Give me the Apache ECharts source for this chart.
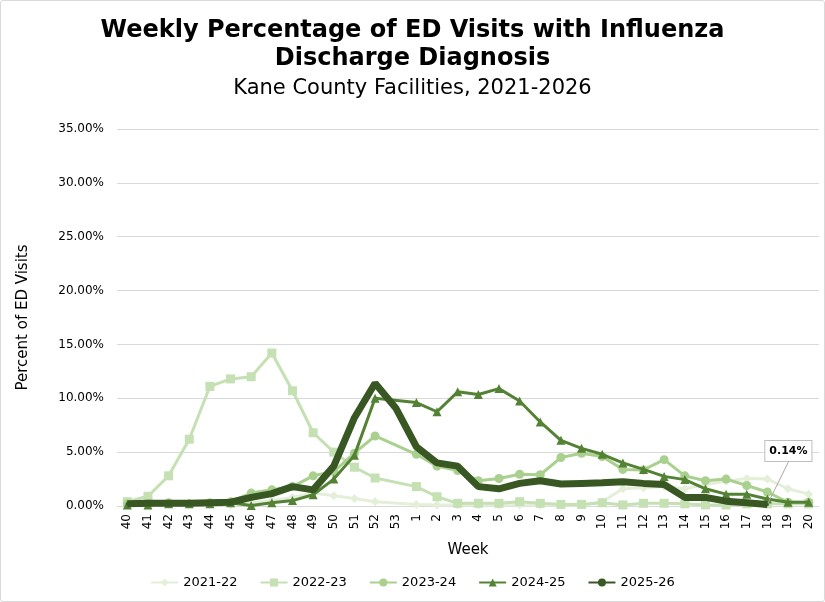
<!DOCTYPE html>
<html>
<head>
<meta charset="utf-8">
<script src="https://cdn.jsdelivr.net/npm/echarts@6/dist/echarts.min.js"></script>
<style>
html,body{margin:0;padding:0;background:#fff}
#chart{width:825px;height:602px;box-sizing:border-box;border:1px solid #d9d9d9;border-radius:3px}
</style>
</head>
<body>
<div id="chart"></div>
<script>
const weeks = ['40','41','42','43','44','45','46','47','48','49','50','51','52','53',
  '1','2','3','4','5','6','7','8','9','10','11','12','13','14','15','16','17','18','19','20'];

// percent of ED visits, week 53 only exists in 2025-26
const s2122 = [0.4,0.3,0.2,0.2,0.2,0.1,0.3,0.5,0.8,1.2,0.95,0.7,0.4,null,
  0.15,0.1,0.1,0.1,0.1,0.1,0.1,0.1,0.1,0.4,1.6,1.7,1.8,1.6,2.0,2.3,2.55,2.5,1.6,1.1];
const s2223 = [0.4,0.9,2.8,6.2,11.1,11.8,12.0,14.2,10.7,6.8,5.0,3.6,2.6,null,
  1.8,0.86,0.25,0.25,0.25,0.4,0.25,0.15,0.15,0.3,0.1,0.25,0.25,0.2,0.1,0.1,0.2,0.2,0.2,0.2];
const s2324 = [0.2,0.2,0.3,0.2,0.3,0.4,1.2,1.5,1.8,2.8,3.2,4.9,6.5,null,
  4.8,3.7,3.3,2.35,2.55,2.95,2.9,4.5,4.9,4.6,3.4,3.35,4.3,2.8,2.35,2.5,1.9,1.3,0.35,0.35];
const s2425 = [0.1,0.1,0.2,0.2,0.2,0.3,0.05,0.3,0.5,1.05,2.5,4.7,10.0,null,
  9.6,8.75,10.6,10.35,10.9,9.75,7.8,6.1,5.35,4.8,4.0,3.4,2.75,2.45,1.6,1.1,1.1,0.65,0.35,0.35];
const s2526 = [0.2,0.25,0.25,0.25,0.3,0.35,0.8,1.15,1.8,1.5,3.7,8.2,11.4,9.1,
  5.5,4.0,3.7,1.8,1.6,2.1,2.35,2.05,2.1,2.15,2.25,2.1,2.0,0.8,0.8,0.45,0.3,0.14,null,null];

const seasons = ['2021-22','2022-23','2023-24','2024-25','2025-26'];
const colors = ['#e4efd9','#c5e0b3','#a9d08e','#548235','#385723'];
const symbols = ['diamond','rect','circle','triangle','circle'];
const widths = [3,3,3,3,7];
const sizes = [9,9,9,9,3];

const font = 'Verdana, "DejaVu Sans", sans-serif';
const lastIdx = s2526.reduce((a,v,i)=>v!=null?i:a,0);

const series = [s2122,s2223,s2324,s2425,s2526].map((d,i)=>({
  name:seasons[i],type:'line',connectNulls:true,
  symbol:symbols[i],symbolSize:sizes[i],
  lineStyle:{width:widths[i],color:colors[i]},
  itemStyle:{color:colors[i]},
  z:2+i,
  data:i===4 ? d.map((v,j)=>j===lastIdx ? {value:v,label:{show:true}} : v) : d,
  label:{show:false,position:'top',formatter:p=>p.value.toFixed(2)+'%',
    fontFamily:font,fontWeight:'bold',fontSize:11,color:'#000',
    backgroundColor:'#fff',borderColor:'#bfbfbf',borderWidth:1,padding:[5,4,4,4]},
  labelLine:{show:true,lineStyle:{color:'#a6a6a6',width:1}},
  labelLayout:i===4 ? {dx:21,dy:-37} : undefined
}));

const chart = echarts.init(document.getElementById('chart'));
chart.setOption({
  animation:false,
  color:colors,
  title:[
    {text:'Weekly Percentage of ED Visits with Influenza\nDischarge Diagnosis',left:'center',top:11,
      textStyle:{fontFamily:font,fontWeight:'bold',fontSize:24,lineHeight:28,color:'#000'}},
    {text:'Kane County Facilities, 2021-2026',left:'center',top:72,
      textStyle:{fontFamily:font,fontWeight:'normal',fontSize:21,color:'#000'}}
  ],
  grid:{left:116,right:5,top:128,bottom:95},
  legend:{bottom:7,itemGap:22,itemWidth:27,itemHeight:10,
    textStyle:{fontFamily:font,fontSize:13,color:'#000'},data:seasons},
  xAxis:{type:'category',data:weeks,boundaryGap:true,
    name:'Week',nameLocation:'middle',nameGap:37,
    nameTextStyle:{fontFamily:font,fontSize:15,color:'#000'},
    axisLine:{lineStyle:{color:'#d9d9d9'}},axisTick:{show:false},
    axisLabel:{rotate:90,interval:0,fontFamily:font,fontSize:12,color:'#000',margin:8}},
  yAxis:{type:'value',min:0,max:35,interval:5,
    name:'Percent of ED Visits',nameLocation:'middle',nameGap:86,
    nameTextStyle:{fontFamily:font,fontSize:15,color:'#000'},
    axisLabel:{formatter:v=>v.toFixed(2)+'%',fontFamily:font,fontSize:12,color:'#000',margin:13},
    splitLine:{lineStyle:{color:'#d9d9d9'}}},
  series:series
});
</script>
</body>
</html>
